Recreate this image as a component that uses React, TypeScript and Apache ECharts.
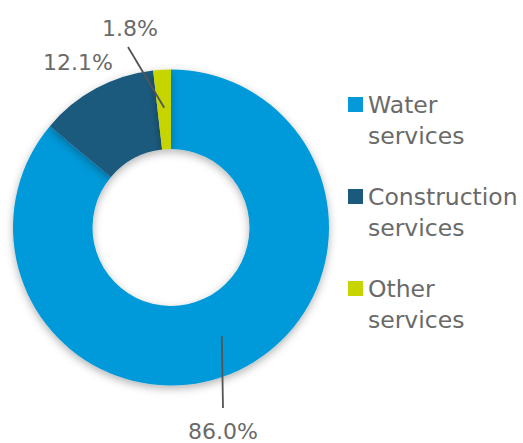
import React, { useEffect, useRef } from "react";
import * as echarts from "echarts";

const CATEGORIES = ["Water services", "Construction services", "Other services"];
const SHARES = [86.0, 12.1, 1.8];
const COLORS = ["#0599D9", "#1B5A7D", "#C6D500"];

// layout (pixels)
const CENTER: [number, number] = [171, 227.5];
const RADIUS: [number, number] = [78.5, 158];
const LEADER_START_R = 120;
const LABEL_POS: [number, number][] = [
  [223, 431],
  [78, 62],
  [130, 28],
];
const LEADER_END: ([number, number] | null)[] = [[223, 408], null, [128, 47]];

const FONT = "'DejaVu Sans', sans-serif";

export default function App() {
  const ref = useRef<HTMLDivElement>(null);

  useEffect(() => {
    document.body.style.margin = "0";
    if (!ref.current) return;
    const chart = echarts.init(ref.current, undefined, { renderer: "svg" });
    const total = SHARES.reduce((a, b) => a + b, 0);
    const data = CATEGORIES.map((name, i) => ({ name, value: SHARES[i] }));

    const common = {
      type: "pie",
      center: CENTER,
      radius: RADIUS,
      startAngle: 90,
      clockwise: true,
      avoidLabelOverlap: false,
      emphasis: { disabled: true },
      silent: true,
    };

    chart.setOption({
      animation: false,
      backgroundColor: "#ffffff",
      color: COLORS,
      legend: {
        orient: "vertical",
        left: 348,
        top: 58,
        padding: 0,
        itemGap: -1,
        itemWidth: 15,
        itemHeight: 15,
        icon: "rect",
        data: CATEGORIES,
        formatter: (name: string) => "\n" + name.replace(" ", "\n"),
        textStyle: {
          fontFamily: FONT,
          fontSize: 23.5,
          color: "#6a6a6a",
          lineHeight: 31,
        },
      },
      series: [
        {
          ...common,
          z: 2,
          itemStyle: {
            shadowBlur: 8,
            shadowOffsetY: 3,
            shadowColor: "rgba(0,0,0,0.3)",
          },
          label: { show: false },
          labelLine: { show: false },
          data,
        },
        {
          ...common,
          z: 5,
          itemStyle: { color: "rgba(0,0,0,0)" },
          label: {
            show: true,
            position: "outside",
            fontFamily: FONT,
            fontSize: 22,
            color: "#6a6a6a",
            formatter: (p: any) => Number(p.value).toFixed(1) + "%",
          },
          labelLine: {
            show: true,
            showAbove: true,
            length: 10,
            length2: 10,
            lineStyle: { color: "#555555", width: 1.8 },
          },
          labelLayout: (params: any) => {
            const i = params.dataIndex;
            const [cx, cy] = CENTER;
            let ang: number;
            const pts = params.labelLinePoints;
            if (pts && pts[0]) {
              ang = Math.atan2(pts[0][1] - cy, pts[0][0] - cx);
            } else {
              let cum = 0;
              for (let k = 0; k < i; k++) cum += SHARES[k];
              const frac = (cum + SHARES[i] / 2) / total;
              ang = -Math.PI / 2 + frac * Math.PI * 2;
            }
            const start: [number, number] = [
              cx + LEADER_START_R * Math.cos(ang),
              cy + LEADER_START_R * Math.sin(ang),
            ];
            const end = LEADER_END[i] || start;
            return {
              x: LABEL_POS[i][0],
              y: LABEL_POS[i][1],
              align: "center",
              verticalAlign: "middle",
              labelLinePoints: [start, start, end],
            };
          },
          data,
        },
      ],
    });

    return () => chart.dispose();
  }, []);

  return <div ref={ref} style={{ width: 523, height: 443 }} />;
}
